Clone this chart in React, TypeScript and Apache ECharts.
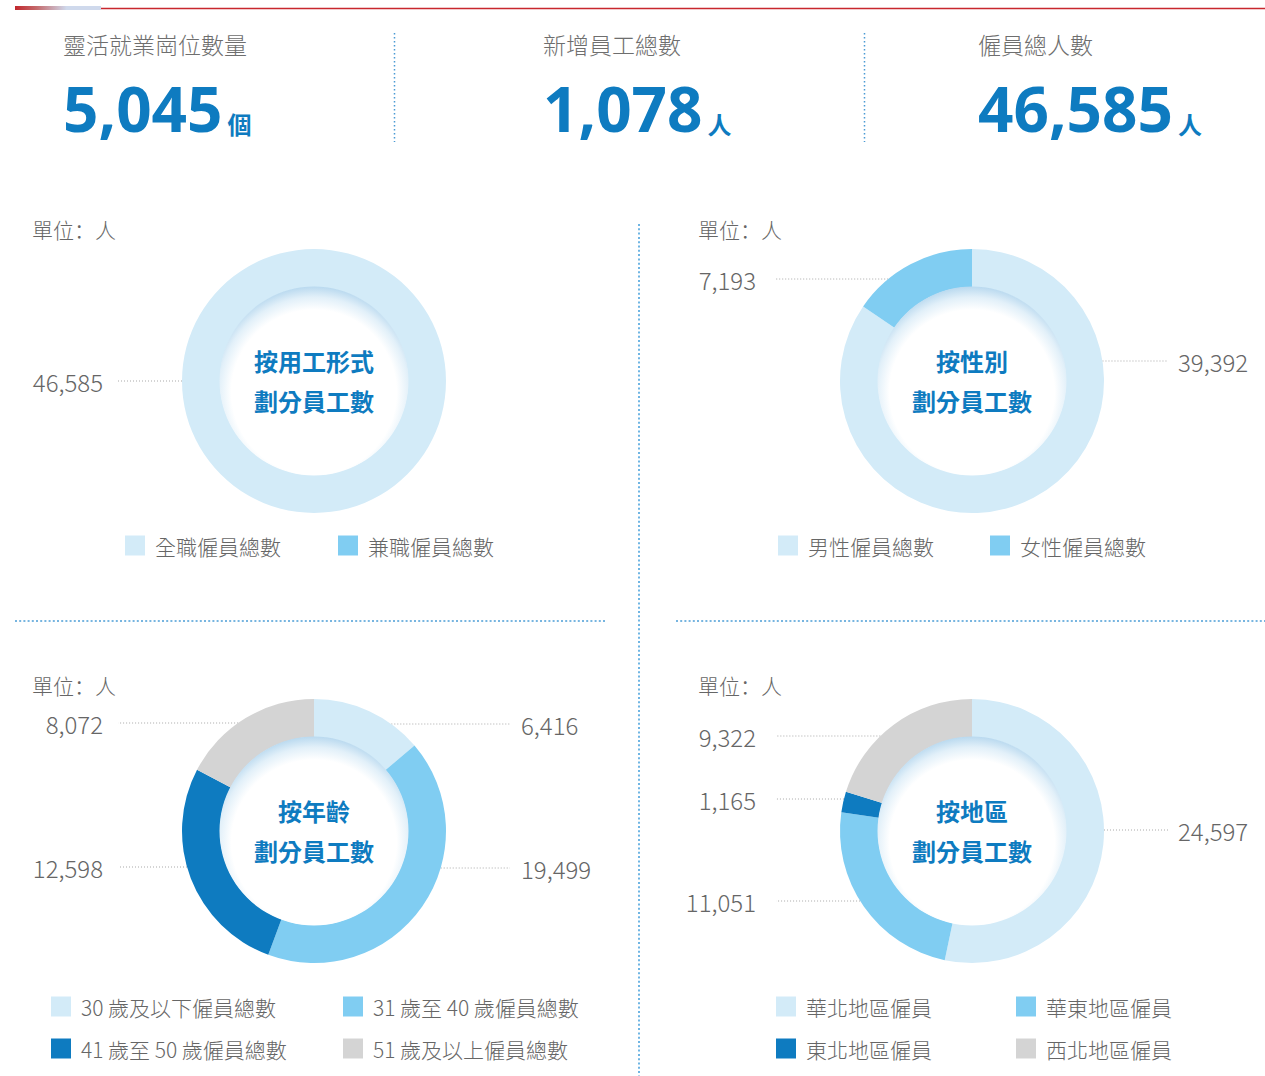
import React, { useEffect, useRef } from 'react';
import * as echarts from 'echarts';

// ---------- data ----------
const STAT_LABELS = ['靈活就業崗位數量', '新增員工總數', '僱員總人數'];
const STAT_VALUES = [5045, 1078, 46585];
const STAT_UNITS = ['個', '人', '人'];

const UNIT_TEXT = '單位：人';

const EMPLOYMENT_NAMES = ['全職僱員總數', '兼職僱員總數'];
const EMPLOYMENT_VALUES = [46585, 0];

const GENDER_NAMES = ['男性僱員總數', '女性僱員總數'];
const GENDER_VALUES = [39392, 7193];

const AGE_NAMES = ['30 歲及以下僱員總數', '31 歲至 40 歲僱員總數', '41 歲至 50 歲僱員總數', '51 歲及以上僱員總數'];
const AGE_VALUES = [6416, 19499, 12598, 8072];

const REGION_NAMES = ['華北地區僱員', '華東地區僱員', '東北地區僱員', '西北地區僱員'];
const REGION_VALUES = [24597, 11051, 1165, 9322];

const CENTER_TITLES = ['按用工形式\n劃分員工數', '按性別\n劃分員工數', '按年齡\n劃分員工數', '按地區\n劃分員工數'];

// ---------- styles / layout ----------
const CJK = "'Noto Sans CJK TC','Noto Sans CJK SC',sans-serif";
const CJK_SC = "'Noto Sans CJK SC','Noto Sans CJK TC',sans-serif";
const NUM_FONT = "'Open Sans','Noto Sans',sans-serif";
const BLUE = '#0e7bc0';
const TEXT_GRAY = '#666666';
const SLICE_COLORS = ['#d3ebf8', '#80cdf2', '#0e7bc0', '#d4d4d4'];
const R_IN = 94;
const R_OUT = 132;

type LabelCfg = { side: 'L' | 'R'; dy: number } | null;
type Panel = {
  names: string[];
  values: number[];
  title: string;
  cx: number;
  cy: number;
  unitPos: [number, number];
  labels: LabelCfg[];
  legendPos: [number, number][];
  textOffL: number;
  textOffR: number;
};

const PANELS: Panel[] = [
  {
    names: EMPLOYMENT_NAMES, values: EMPLOYMENT_VALUES, title: CENTER_TITLES[0],
    cx: 314, cy: 381, unitPos: [32, 229],
    labels: [{ side: 'L', dy: 0 }, null],
    legendPos: [[125, 535], [338, 535]],
    textOffL: 211, textOffR: 207,
  },
  {
    names: GENDER_NAMES, values: GENDER_VALUES, title: CENTER_TITLES[1],
    cx: 972, cy: 381, unitPos: [698, 229],
    labels: [{ side: 'R', dy: -20 }, { side: 'L', dy: -102 }],
    legendPos: [[778, 535], [990, 535]],
    textOffL: 216, textOffR: 206,
  },
  {
    names: AGE_NAMES, values: AGE_VALUES, title: CENTER_TITLES[2],
    cx: 314, cy: 831, unitPos: [32, 685],
    labels: [{ side: 'R', dy: -107 }, { side: 'R', dy: 37 }, { side: 'L', dy: 36 }, { side: 'L', dy: -108 }],
    legendPos: [[51, 996], [343, 996], [51, 1038], [343, 1038]],
    textOffL: 211, textOffR: 207,
  },
  {
    names: REGION_NAMES, values: REGION_VALUES, title: CENTER_TITLES[3],
    cx: 972, cy: 831, unitPos: [698, 685],
    labels: [{ side: 'R', dy: -1 }, { side: 'L', dy: 70 }, { side: 'L', dy: -32 }, { side: 'L', dy: -95 }],
    legendPos: [[776, 996], [1016, 996], [776, 1038], [1016, 1038]],
    textOffL: 216, textOffR: 206,
  },
];

const STAT_X = [63, 543, 978];
const STAT_SEP_X = [394.5, 864.5];

const fmt = (v: number) => v.toLocaleString('en-US');

function measure(text: string, font: string): number {
  const c = document.createElement('canvas');
  const ctx = c.getContext('2d');
  if (!ctx) return text.length * 34;
  ctx.font = font;
  return ctx.measureText(text).width;
}

function buildOption() {
  const series: any[] = PANELS.map((p) => ({
    type: 'pie',
    center: [p.cx, p.cy],
    radius: [R_IN, R_OUT],
    startAngle: 90,
    clockwise: true,
    avoidLabelOverlap: false,
    emphasis: { disabled: true },
    label: {
      show: true,
      formatter: (d: any) => fmt(d.value),
      fontSize: 24,
      fontWeight: 300,
      color: TEXT_GRAY,
      fontFamily: CJK,
    },
    labelLine: {
      show: true,
      lineStyle: { color: '#a9a9a9', width: 1, type: [1, 2] },
    },
    labelLayout: (lp: any) => {
      const cfg = p.labels[lp.dataIndex];
      if (!cfg) return {};
      const y = p.cy + cfg.dy;
      const half = Math.sqrt(Math.max(R_OUT * R_OUT - cfg.dy * cfg.dy, 0));
      if (cfg.side === 'L') {
        const x0 = p.cx - half;
        const x1 = p.cx - 196;
        return {
          x: p.cx - p.textOffL, y, align: 'right', verticalAlign: 'middle',
          labelLinePoints: [[x0, y], [(x0 + x1) / 2, y], [x1, y]],
        };
      }
      const x0 = p.cx + half;
      const x1 = p.cx + 196;
      return {
        x: p.cx + p.textOffR, y, align: 'left', verticalAlign: 'middle',
        labelLinePoints: [[x0, y], [(x0 + x1) / 2, y], [x1, y]],
      };
    },
    data: p.names.map((n, i) => {
      const item: any = { name: n, value: p.values[i], itemStyle: { color: SLICE_COLORS[i] } };
      if (!p.labels[i]) {
        item.label = { show: false };
        item.labelLine = { show: false };
      }
      return item;
    }),
  }));

  const legends: any[] = [];
  PANELS.forEach((p) => {
    p.names.forEach((n, i) => {
      legends.push({
        left: p.legendPos[i][0],
        top: p.legendPos[i][1],
        padding: 0,
        itemWidth: 20,
        itemHeight: 20,
        icon: 'rect',
        data: [n],
        textStyle: { fontSize: 21, fontWeight: 300, color: TEXT_GRAY, fontFamily: CJK, lineHeight: 20, padding: [0, 0, 0, 5] },
      });
    });
  });

  const graphics: any[] = [];
  // top decoration
  graphics.push({
    type: 'rect',
    shape: { x: 15, y: 6, width: 86, height: 4 },
    style: {
      fill: new echarts.graphic.LinearGradient(0, 0, 1, 0, [
        { offset: 0, color: '#c1272d' },
        { offset: 0.25, color: '#c46a6c' },
        { offset: 0.6, color: '#cfd9ec' },
        { offset: 1, color: '#cfd9ec' },
      ]),
    },
  });
  graphics.push({
    type: 'line',
    shape: { x1: 101, y1: 8.5, x2: 1265, y2: 8.5 },
    style: { stroke: '#c8272d', lineWidth: 1.5 },
  });

  // stats
  const numSize = 62;
  const numFont = `bold ${numSize}px ${NUM_FONT}`;
  STAT_LABELS.forEach((lab, i) => {
    const x = STAT_X[i];
    graphics.push({
      type: 'text', x, y: 44,
      style: { text: lab, fontSize: 23, fontWeight: 300, fontFamily: CJK, fill: '#6e6e6e', verticalAlign: 'middle', align: 'left' },
    });
    const numText = fmt(STAT_VALUES[i]);
    graphics.push({
      type: 'text', x, y: 108,
      style: { text: numText, fontSize: numSize, fontWeight: 'bold', fontFamily: NUM_FONT, fill: BLUE, verticalAlign: 'middle', align: 'left' },
    });
    const w = measure(numText, numFont);
    graphics.push({
      type: 'text', x: x + w + 5, y: 123,
      style: { text: STAT_UNITS[i], fontSize: 24, fontWeight: 'bold', fontFamily: CJK, fill: BLUE, verticalAlign: 'middle', align: 'left' },
    });
  });
  STAT_SEP_X.forEach((x) => {
    graphics.push({
      type: 'line',
      shape: { x1: x, y1: 33, x2: x, y2: 142 },
      style: { stroke: '#4a9ad4', lineWidth: 1.5, lineDash: [1.5, 2.5] },
    });
  });

  // separators
  graphics.push({
    type: 'line',
    shape: { x1: 639, y1: 224, x2: 639, y2: 1076 },
    style: { stroke: '#6fb5e3', lineWidth: 2, lineDash: [2, 2.3] },
  });
  graphics.push({
    type: 'line',
    shape: { x1: 15, y1: 621, x2: 606, y2: 621 },
    style: { stroke: '#4b9dd6', lineWidth: 1.5, lineDash: [2, 2.2] },
  });
  graphics.push({
    type: 'line',
    shape: { x1: 676, y1: 621, x2: 1265, y2: 621 },
    style: { stroke: '#4b9dd6', lineWidth: 1.5, lineDash: [2, 2.2] },
  });

  // panels: unit text, inner disc, title
  PANELS.forEach((p) => {
    graphics.push({
      type: 'text', x: p.unitPos[0], y: p.unitPos[1],
      style: { text: UNIT_TEXT, fontSize: 21, fontWeight: 300, fontFamily: CJK_SC, fill: TEXT_GRAY, verticalAlign: 'middle', align: 'left' },
    });
    graphics.push({
      type: 'circle', z: 5,
      shape: { cx: p.cx, cy: p.cy, r: R_IN + 0.5 },
      style: {
        fill: new echarts.graphic.RadialGradient(0.5, 0.56, 0.56, [
          { offset: 0, color: '#ffffff' },
          { offset: 0.78, color: '#ffffff' },
          { offset: 0.9, color: '#e2f0f9' },
          { offset: 1, color: '#b9d9ef' },
        ]),
      },
    });
    graphics.push({
      type: 'text', z: 6, x: p.cx, y: p.cy - 1,
      style: {
        text: p.title, fontSize: 24, fontWeight: 'bold', fontFamily: CJK, fill: BLUE,
        align: 'center', verticalAlign: 'middle', lineHeight: 40,
      },
    });
  });

  return {
    animation: false,
    backgroundColor: '#ffffff',
    legend: legends,
    series,
    graphic: { elements: graphics },
  };
}

export default function App() {
  const ref = useRef<HTMLDivElement>(null);
  useEffect(() => {
    if (!ref.current) return;
    const chart = echarts.init(ref.current, undefined, { renderer: 'svg' });
    chart.setOption(buildOption() as any);
    return () => chart.dispose();
  }, []);
  return (
    <div
      ref={ref}
      style={{ position: 'fixed', left: 0, top: 0, width: 1265, height: 1076, background: '#fff' }}
    />
  );
}
